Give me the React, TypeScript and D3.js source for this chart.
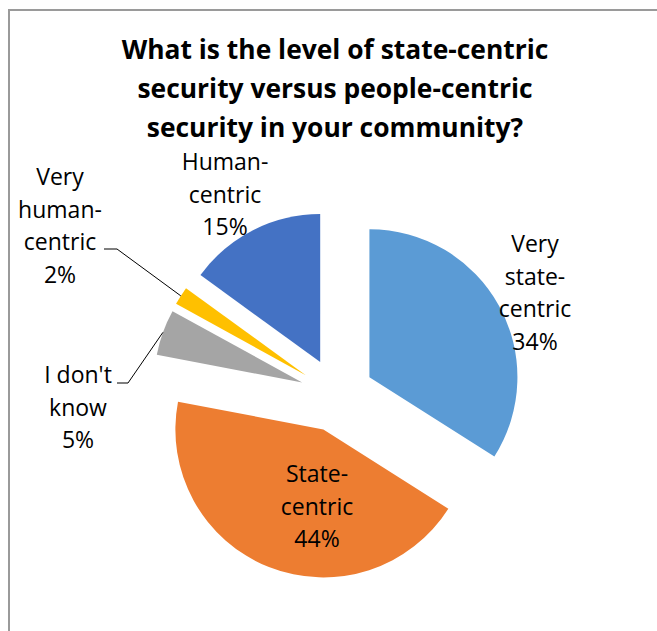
import React from "react";
import * as d3 from "d3";

const categories = ["Very state-centric", "State-centric", "I don't know", "Very human-centric", "Human-centric"];
const values = [34, 44, 5, 2, 15];
const colors = ["#5B9BD5", "#ED7D31", "#A5A5A5", "#FFC000", "#4472C4"];
const labelLines = [
  ["Very", "state-", "centric"],
  ["State-", "centric"],
  ["I don't", "know"],
  ["Very", "human-", "centric"],
  ["Human-", "centric"],
];
const titleLines = [
  "What is the level of state-centric",
  "security versus people-centric",
  "security in your community?",
];

// layout
const W = 657, H = 631;
const CX = 337, CY = 395, R = 148, EXPLODE = 37;
const LINE_H = 32.5;
const labelPos = [
  { x: 535, y: 252 },
  { x: 317, y: 482 },
  { x: 78, y: 383 },
  { x: 60, y: 185 },
  { x: 225, y: 170 },
];
// leader line start points (label side) per slice, null = none
const leaderStart: (null | [number, number][])[] = [
  null,
  null,
  [[117, 383], [128, 383]],
  [[104, 249], [117, 249]],
  null,
];

export default function App() {
  const pie = d3.pie<number>().sort(null).value((d) => d)(values);
  const arc = d3.arc<d3.PieArcDatum<number>>().innerRadius(0).outerRadius(R);
  const font = "'Open Sans', Calibri, sans-serif";

  return (
    <svg width={W} height={H} style={{ position: "absolute", left: 0, top: 0 }}>
      <rect x={0} y={0} width={W} height={H} fill="#fff" />
      <path d={`M9,${H} L9,10 L${W},10`} fill="none" stroke="#9a9a9a" strokeWidth={2} />
      <g fontFamily={font} fontWeight="bold" fontSize={26.4} fill="#000" textAnchor="middle">
        {titleLines.map((t, i) => (
          <text key={i} x={335} y={59 + i * 39}>{t}</text>
        ))}
      </g>
      {pie.map((p, i) => {
        const mid = (p.startAngle + p.endAngle) / 2;
        const ox = CX + Math.sin(mid) * EXPLODE;
        const oy = CY - Math.cos(mid) * EXPLODE;
        return (
          <path key={i} d={arc(p) || ""} transform={`translate(${ox},${oy})`} fill={colors[i]} />
        );
      })}
      {pie.map((p, i) => {
        const st = leaderStart[i];
        if (!st) return null;
        const mid = (p.startAngle + p.endAngle) / 2;
        const ex = CX + Math.sin(mid) * (EXPLODE + R);
        const ey = CY - Math.cos(mid) * (EXPLODE + R);
        const pts = [...st, [ex, ey]];
        return (
          <path key={"l" + i} d={d3.line()(pts as [number, number][]) || ""} fill="none" stroke="#000" strokeWidth={1} />
        );
      })}
      <g fontFamily={font} fontSize={23} fill="#000" textAnchor="middle">
        {categories.map((c, i) => {
          const lines = [...labelLines[i], `${values[i]}%`];
          return (
            <text key={c}>
              {lines.map((l, j) => (
                <tspan key={j} x={labelPos[i].x} y={labelPos[i].y + j * LINE_H}>{l}</tspan>
              ))}
            </text>
          );
        })}
      </g>
    </svg>
  );
}
